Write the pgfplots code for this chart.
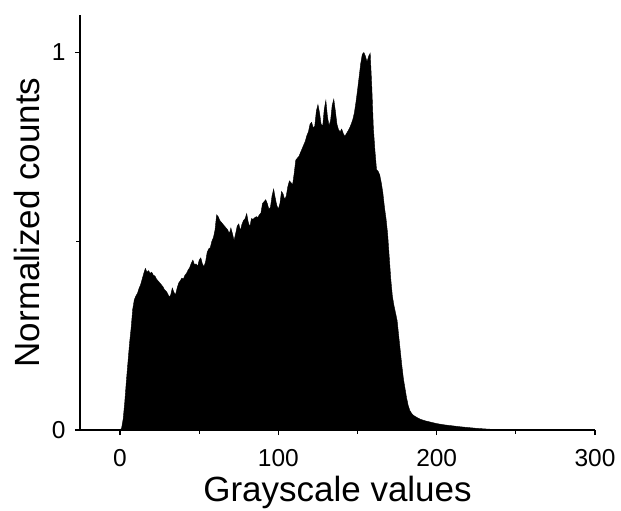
\documentclass[border=0pt]{standalone}
\usepackage{fontspec}
\setmainfont{Liberation Sans}
\usepackage{pgfplots}
\pgfplotsset{compat=1.18}
\begin{document}
\begin{tikzpicture}
\begin{axis}[
 width=515pt, height=415.3pt, scale only axis,
 xmin=-25.3, xmax=300, ymin=0, ymax=1.1,
 axis x line*=bottom, axis y line*=left,
 xtick={0,100,200,300}, ytick={0,1},
 minor xtick={50,150,250}, minor ytick={0.5},
 tick align=outside,
 major tick length=5pt, minor tick length=3.5pt,
 every tick/.style={black, line width=1.3pt},
 axis line style={line width=1.5pt},
 xticklabel={\fontsize{24.5}{29}\selectfont\pgfmathprintnumber[assume math mode=true]{\tick}},
 yticklabel={\fontsize{24.5}{29}\selectfont\pgfmathprintnumber[assume math mode=true]{\tick}},
 xticklabel style={yshift=-11pt},
 yticklabel style={xshift=-6pt},
 xlabel={Grayscale values}, ylabel={Normalized counts},
 label style={font=\fontsize{35}{42}\selectfont},
 xlabel style={at={(axis description cs:0.5,-0.171)}, anchor=base},
 ylabel style={at={(axis description cs:-0.0777,0.5)}, anchor=base},
]
\addplot[fill=black, draw=black, line width=0.4pt] table {
x y
0 0
1 0.005
2 0.03
3 0.075
4 0.13
5 0.18
6 0.23
7 0.27
8 0.32
9 0.345
10 0.355
11 0.362
12 0.375
13 0.385
14 0.40
15 0.415
16 0.428
17 0.418
18 0.422
19 0.415
20 0.418
21 0.41
22 0.408
23 0.40
24 0.395
25 0.39
26 0.385
27 0.38
28 0.372
29 0.368
30 0.362
31 0.352
32 0.358
33 0.376
34 0.365
35 0.358
36 0.375
37 0.389
38 0.395
39 0.402
40 0.400
41 0.41
42 0.415
43 0.424
44 0.43
45 0.442
46 0.450
47 0.438
48 0.44
49 0.433
50 0.45
51 0.456
52 0.44
53 0.433
54 0.445
55 0.47
56 0.48
57 0.483
58 0.50
59 0.51
60 0.53
61 0.57
62 0.565
63 0.555
64 0.55
65 0.545
66 0.54
67 0.535
68 0.53
69 0.52
70 0.535
71 0.52
72 0.502
73 0.52
74 0.54
75 0.546
76 0.528
77 0.545
78 0.555
79 0.56
80 0.573
81 0.55
82 0.538
83 0.56
84 0.558
85 0.562
86 0.565
87 0.563
88 0.57
89 0.575
90 0.6
91 0.605
92 0.61
93 0.6
94 0.585
95 0.59
96 0.62
97 0.638
98 0.615
99 0.595
100 0.585
101 0.6
102 0.632
103 0.625
104 0.61
105 0.62
106 0.645
107 0.66
108 0.655
109 0.65
110 0.68
111 0.715
112 0.72
113 0.725
114 0.735
115 0.745
116 0.755
117 0.765
118 0.78
119 0.79
120 0.81
121 0.815
122 0.80
123 0.805
124 0.845
125 0.862
126 0.84
127 0.81
128 0.805
129 0.85
130 0.873
131 0.83
132 0.806
133 0.82
134 0.86
135 0.876
136 0.845
137 0.81
138 0.795
139 0.79
140 0.797
141 0.785
142 0.778
143 0.785
144 0.792
145 0.80
146 0.81
147 0.822
148 0.84
149 0.868
150 0.9
151 0.935
152 0.97
153 0.995
154 1.0
155 0.99
156 0.975
157 0.99
158 0.998
159 0.91
160 0.8
161 0.74
162 0.69
163 0.685
164 0.676
165 0.655
166 0.628
167 0.59
168 0.56
169 0.52
170 0.46
171 0.40
172 0.355
173 0.33
174 0.31
175 0.29
176 0.25
177 0.21
178 0.17
179 0.135
180 0.11
181 0.085
182 0.065
183 0.052
184 0.045
185 0.04
186 0.037
188 0.032
190 0.028
193 0.024
196 0.021
200 0.017
205 0.0135
210 0.011
215 0.0085
220 0.0065
225 0.0045
230 0.003
235 0.0018
240 0.001
245 0.0005
255 0
} \closedcycle;
\end{axis}
\pgfresetboundingbox
\path ([shift={(-80pt,-81pt)}]current axis.south west) rectangle ([shift={(26pt,14.7pt)}]current axis.north east);
\end{tikzpicture}
\end{document}
